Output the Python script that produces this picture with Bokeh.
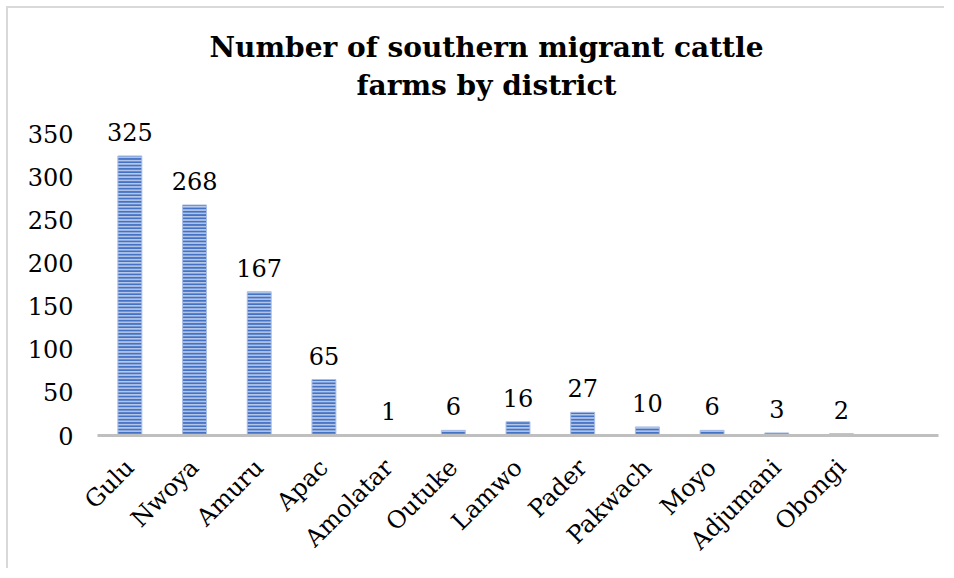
import math
from bokeh.plotting import figure
from bokeh.models import ColumnDataSource, Range1d, FixedTicker, Title
from bokeh.core.properties import value
from bokeh.embed import file_html
from bokeh.resources import INLINE

districts = ["Gulu", "Nwoya", "Amuru", "Apac", "Amolatar", "Outuke", "Lamwo",
             "Pader", "Pakwach", "Moyo", "Adjumani", "Obongi"]
farms = [325, 268, 167, 65, 1, 6, 16, 27, 10, 6, 3, 2]
y_ticks = [0, 50, 100, 150, 200, 250, 300, 350]

pos = list(range(len(districts)))
src = ColumnDataSource(dict(x=pos, top=farms, lab=[str(v) for v in farms]))

SERIF = "DejaVu Serif"

p = figure(width=938, height=562, output_backend="svg", toolbar_location=None,
           x_range=Range1d(-0.5, len(districts) + 0.5), y_range=Range1d(0, 372),
           min_border_left=89, min_border_right=8, min_border_bottom=135, min_border_top=107)

p.title.text = "Number of southern migrant cattle"
p.title.align = "left"
p.title.text_font = SERIF
p.title.text_font_style = "bold"
p.title.text_font_size = "28px"
p.title.text_color = "#000000"
p.title.offset = 112
p.title.standoff = -22
t2 = Title(text="farms by district", align="left", text_font=SERIF, text_font_style="bold",
           text_font_size="28px", text_color="#000000", offset=259, standoff=28)
p.add_layout(t2, "above")

p.vbar(x="x", top="top", width=0.37, source=src, fill_color="#b8c9ea",
       line_color="#a9bfe6", line_width=1,
       hatch_pattern="horizontal_line", hatch_color="#4472C4", hatch_scale=3.3, hatch_weight=2.2)

p.text(x="x", y="top", text="lab", source=src, text_align="center",
       text_baseline="bottom", y_offset=-15, text_font=value(SERIF),
       text_font_size=value("24px"), text_color="#000000")

p.xaxis.ticker = FixedTicker(ticks=pos)
p.xaxis.major_label_overrides = {i: d for i, d in enumerate(districts)}
p.xaxis.major_label_orientation = math.pi / 4
p.xaxis.major_label_text_font = SERIF
p.xaxis.major_label_text_font_size = "24px"
p.xaxis.major_label_text_color = "#000000"
p.xaxis.axis_line_color = "#BFBFBF"
p.xaxis.axis_line_width = 3
p.xaxis.major_tick_line_color = None
p.xaxis.minor_tick_line_color = None
p.xaxis.major_label_standoff = 22

p.yaxis.ticker = FixedTicker(ticks=y_ticks)
p.yaxis.major_label_text_font = SERIF
p.yaxis.major_label_text_font_size = "24px"
p.yaxis.major_label_text_color = "#000000"
p.yaxis.axis_line_color = None
p.yaxis.major_tick_line_color = None
p.yaxis.minor_tick_line_color = None
p.yaxis.major_label_standoff = 18

p.xgrid.grid_line_color = None
p.ygrid.grid_line_color = None
p.outline_line_color = None
p.styles = {"border-top": "2px solid #D9D9D9", "border-left": "2px solid #D9D9D9",
            "margin-left": "6px", "margin-top": "6px"}

open("out.html", "w").write(file_html(p, INLINE))
